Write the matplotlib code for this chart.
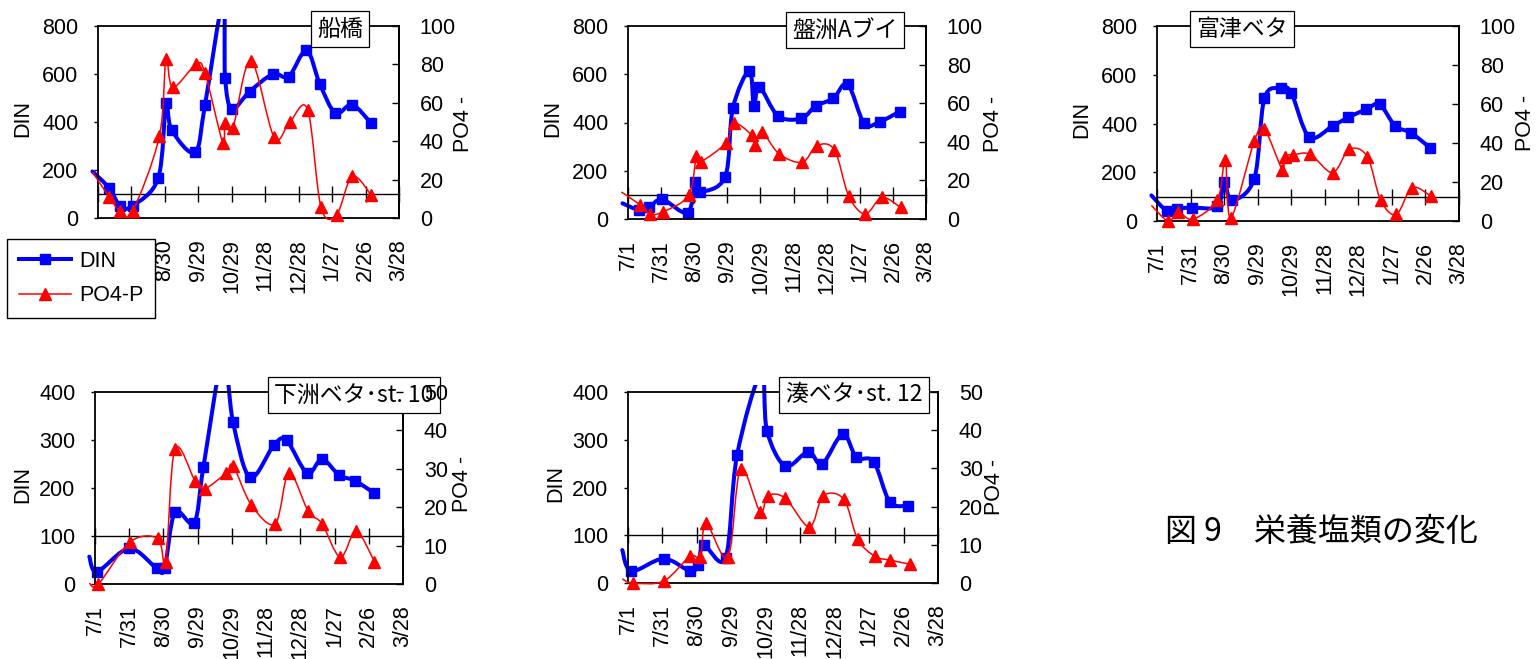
import numpy as np
import matplotlib.pyplot as plt
from matplotlib.path import Path
from matplotlib.patches import PathPatch, Rectangle
from matplotlib.lines import Line2D

plt.rcParams['font.family'] = ['Liberation Sans', 'Noto Sans CJK JP', 'DejaVu Sans']

# --- data (days counted from 7/1) ---
tick_days = [0, 30, 60, 90, 120, 150, 180, 210, 240, 270]
tick_labels = ['7/1', '7/31', '8/30', '9/29', '10/29', '11/28', '12/28', '1/27', '2/26', '3/28']

stations = ['船橋', '盤洲Aブイ', '富津ベタ', '下洲ベタ･st. 10', '湊ベタ･st. 12']

funabashi_din_day = [-5, 10, 20, 31, 54, 61, 66, 87, 96, 112, 114, 120, 136, 157, 171, 187, 199, 213, 228, 245]
funabashi_din = [194, 125, 49, 51, 166, 478, 367, 273, 472, 900, 585, 455, 527, 600, 589, 698, 558, 437, 472, 395]
funabashi_po4_day = [-5, 10, 20, 31, 55, 61, 67, 88, 96, 112, 114, 121, 137, 158, 172, 188, 200, 214, 228, 245]
funabashi_po4 = [24, 11, 3.5, 3.5, 42.5, 83, 68, 80, 75.5, 39, 49.5, 47, 82, 42, 50, 56.5, 5.7, 1.7, 21.7, 12]

banzu_din_day = [-5, 10, 19, 31, 54, 61, 65, 88, 95, 110, 114, 119, 136, 157, 170, 186, 199, 214, 228, 246]
banzu_din = [65, 37, 48, 81, 26, 155, 113, 175, 459, 615, 468, 548, 427, 417, 468, 500, 559, 396, 403, 445]
banzu_po4_day = [-6, 11, 20, 32, 55, 62, 66, 89, 96, 112, 115, 121, 137, 158, 171, 187, 200, 215, 230, 247]
banzu_po4 = [14, 7.3, 2.6, 3.8, 12.4, 32.6, 29.7, 39.6, 49.6, 43.5, 38.3, 45.3, 33.7, 29.4, 38, 35.8, 11.9, 2.6, 11.2, 6]

futtsu_din_day = [-5, 9, 18, 31, 54, 60, 67, 87, 96, 111, 120, 136, 157, 171, 187, 199, 213, 227, 244]
futtsu_din = [105, 41, 51, 55, 60, 160, 85, 174, 503, 544, 526, 345, 390, 425, 458, 478, 390, 362, 301]
futtsu_po4_day = [-5, 10, 19, 32, 54, 61, 66, 87, 96, 112, 114, 122, 137, 157, 172, 188, 200, 214, 228, 245]
futtsu_po4 = [8, 0, 4.6, 0.9, 11, 31.5, 1.7, 41, 47, 26.4, 33, 34, 34.2, 24.8, 36.8, 33, 10.6, 3.4, 17.1, 12.7]

shimosu_din_day = [-5, 2, 30, 54, 61, 70, 87, 95, 112, 121, 136, 157, 168, 186, 199, 214, 228, 245]
shimosu_din = [57, 26, 74, 33, 33, 149, 128, 243, 470, 337, 222, 290, 299, 231, 260, 227, 215, 189]
shimosu_po4_day = [-5, 3, 31, 55, 62, 70, 88, 96, 115, 121, 137, 158, 170, 187, 199, 215, 229, 245]
shimosu_po4 = [0.2, 0, 11, 11.9, 5.8, 35.1, 26.7, 24.8, 28.9, 30.8, 20.6, 15.7, 28.9, 18.9, 15.7, 7, 13.7, 5.8]

minato_din_day = [-5, 3, 31, 54, 61, 66, 85, 95, 116, 121, 137, 157, 169, 187, 199, 214, 228, 244]
minato_din = [69, 25, 51, 25, 37, 79, 53, 268, 440, 319, 245, 275, 249, 312, 263, 254, 170, 162]
minato_po4_day = [-5, 4, 31, 54, 63, 68, 87, 98, 115, 122, 137, 158, 170, 188, 200, 215, 228, 246]
minato_po4 = [1.1, 0, 0.5, 7, 6.8, 15.6, 6.8, 29.8, 18.7, 22.9, 22.2, 14.7, 22.8, 21.9, 11.5, 7, 6, 4.9]

din_days = [funabashi_din_day, banzu_din_day, futtsu_din_day, shimosu_din_day, minato_din_day]
din_vals = [funabashi_din, banzu_din, futtsu_din, shimosu_din, minato_din]
po4_days = [funabashi_po4_day, banzu_po4_day, futtsu_po4_day, shimosu_po4_day, minato_po4_day]
po4_vals = [funabashi_po4, banzu_po4, futtsu_po4, shimosu_po4, minato_po4]
din_max = [800, 800, 800, 400, 400]
po4_max = [100, 100, 100, 50, 50]

# --- layout in figure pixels ---
W, H = 1538, 659
# (left, top, right, bottom)
boxes = [(98, 26, 399, 218), (628, 26, 926, 219), (1157, 26, 1459, 221),
         (95, 392, 403, 584), (628, 392, 938, 583)]
title_centers = [(340, 29), (845, 30), (1242, 29), (354, 395), (854, 395)]
ylabel_pos = [(-0.216, 0.52), (-0.216, 0.52), (-0.216, 0.52), (-0.2, 0.52), (-0.2, 0.52)]
y2label_pos = [(1.179, 0.49), (1.191, 0.49), (1.185, 0.505), (1.159, 0.52), (1.147, 0.504)]

FS = 15.5
BLUE = '#0000FF'
RED = '#FF0000'


def smooth_path(x, y):
    # Excel-style smoothed line: Catmull-Rom converted to cubic Bezier
    pts = np.column_stack([x, y]).astype(float)
    n = len(pts)
    verts = [pts[0]]
    codes = [Path.MOVETO]
    for i in range(n - 1):
        p0 = pts[max(i - 1, 0)]
        p1 = pts[i]
        p2 = pts[i + 1]
        p3 = pts[min(i + 2, n - 1)]
        verts += [p1 + (p2 - p0) / 6, p2 - (p3 - p1) / 6, p2]
        codes += [Path.CURVE4] * 3
    return Path(verts, codes)


fig = plt.figure(figsize=(W / 100, H / 100), dpi=100)

for i in range(5):
    l, t, r, b = boxes[i]
    ax = fig.add_axes([l / W, 1 - b / H, (r - l) / W, (b - t) / H])
    ax2 = ax.twinx()

    # DIN on the left axis
    xd = np.array(din_days[i])
    yd = np.array(din_vals[i])
    patch = PathPatch(smooth_path(xd, yd), facecolor='none', edgecolor=BLUE, lw=2.9,
                      capstyle='round', joinstyle='round')
    ax.add_patch(patch)
    patch.set_clip_path(Rectangle((-0.5, -0.5), 2.0, 1.536, transform=ax.transAxes))
    m = (xd >= 0) & (yd <= din_max[i])
    ax.plot(xd[m], yd[m], ls='none', marker='s', ms=7, color=BLUE, clip_on=False)

    # PO4-P on the right axis
    xp = np.array(po4_days[i])
    yp = np.array(po4_vals[i])
    patch2 = PathPatch(smooth_path(xp, yp), facecolor='none', edgecolor=RED, lw=1.1)
    ax2.add_patch(patch2)
    patch2.set_clip_on(False)
    m2 = (xp >= 0) & (yp <= po4_max[i])
    ax2.plot(xp[m2], yp[m2], ls='none', marker='^', ms=9, color=RED, clip_on=False)

    ax.set_xlim(0, 270)
    ax.set_ylim(0, din_max[i])
    ax.set_yticks(np.linspace(0, din_max[i], 5))
    ax.set_xticks(tick_days, tick_labels, rotation=90)
    ax.tick_params(axis='x', length=0, pad=15, labelsize=FS)
    ax.tick_params(axis='y', direction='out', length=3, width=1, pad=11, labelsize=FS)
    for s in ax.spines.values():
        s.set_linewidth(1.3)
    ax.set_ylabel('DIN', fontsize=FS)
    ax.yaxis.set_label_coords(*ylabel_pos[i])

    ax2.set_ylim(0, po4_max[i])
    ax2.set_yticks(np.linspace(0, po4_max[i], 6))
    ax2.tick_params(axis='y', direction='in', length=5, width=1, pad=15, labelsize=FS)
    for side in ['top', 'bottom', 'left']:
        ax2.spines[side].set_visible(False)
    ax2.spines['right'].set_linewidth(1.3)
    ax2.set_ylabel('PO4 -', fontsize=FS)
    ax2.yaxis.set_label_coords(*y2label_pos[i])
    ax2.yaxis.set_zorder(6)

    # category axis crossing at DIN = 100
    sec = ax.secondary_xaxis(100 / din_max[i])
    sec.set_xticks(tick_days)
    sec.tick_params(axis='x', direction='inout', length=11, width=1,
                    labelbottom=False, labeltop=False)
    for s in sec.spines.values():
        s.set_linewidth(1)

    cx, cy = title_centers[i]
    ax2.text(cx / W, 1 - cy / H, stations[i], transform=fig.transFigure,
             ha='center', va='center', fontsize=16.5, family=['Noto Sans CJK JP'],
             zorder=5, clip_on=False,
             bbox=dict(boxstyle='square,pad=0.28', fc='white', ec='black', lw=0.9))

handles = [Line2D([], [], color=BLUE, lw=2.9, marker='s', ms=7),
           Line2D([], [], color=RED, lw=1.1, marker='^', ms=9)]
fig.legend(handles, ['DIN', 'PO4-P'], loc='upper left', bbox_to_anchor=(7 / W, 1 - 239 / H),
           fontsize=FS, frameon=True, fancybox=False, edgecolor='black', framealpha=1,
           borderaxespad=0, handlelength=2.4, handletextpad=0.4, labelspacing=0.62,
           borderpad=0.55)

fig.text(1165 / W, 1 - 532 / H, '図 9\u3000栄養塩類の変化', fontsize=23,
         family=['Noto Sans CJK JP'], ha='left', va='center')

fig.savefig('out.png', dpi=100)
